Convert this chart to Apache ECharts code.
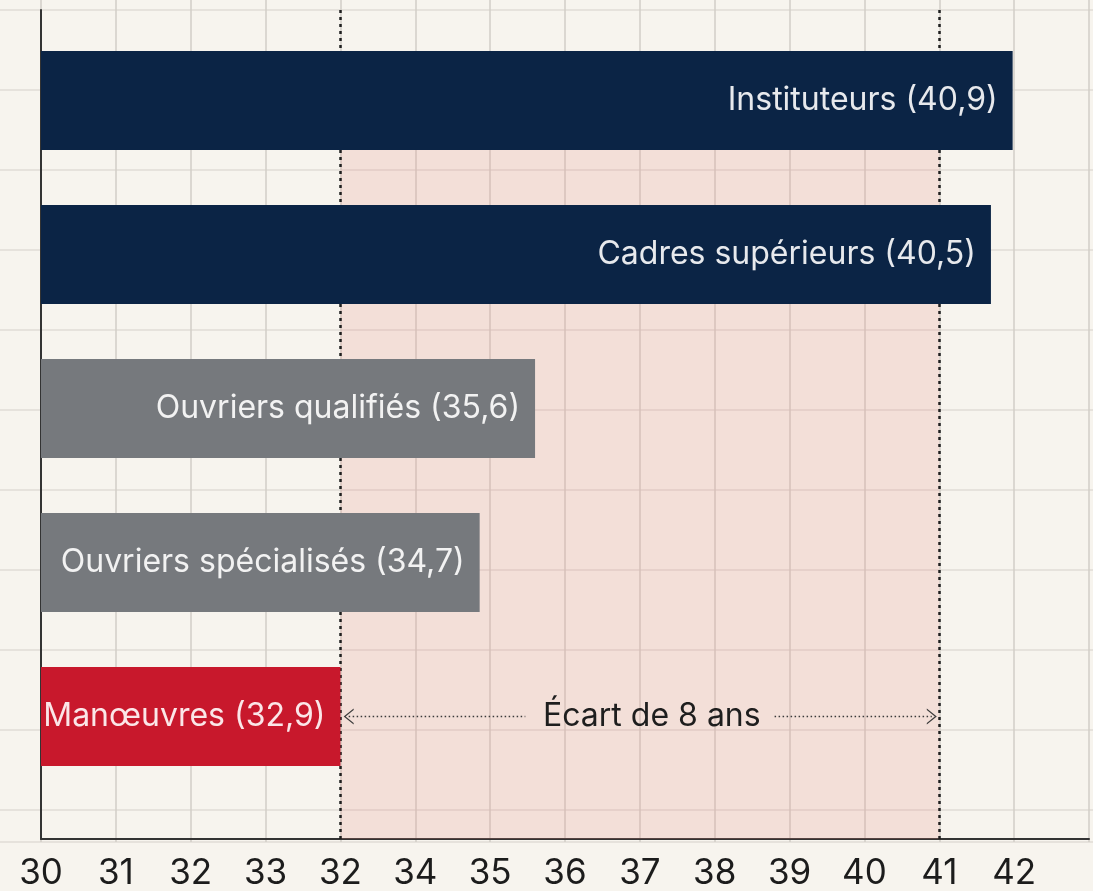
<!DOCTYPE html>
<html>
<head>
<meta charset="utf-8">
<script src="https://cdn.jsdelivr.net/npm/echarts@6/dist/echarts.min.js"></script>
<style>
html,body{margin:0;padding:0;background:#f7f4ee;}
#chart{width:1093px;height:891px;}
</style>
</head>
<body>
<div id="chart"></div>
<script>
// ---- data ----
const categories = ['Instituteurs', 'Cadres supérieurs', 'Ouvriers qualifiés', 'Ouvriers spécialisés', 'Manœuvres'];
const statedAges = [40.9, 40.5, 35.6, 34.7, 32.9];          // values printed in the bar labels
const barEnds = [42.98, 42.69, 36.6, 35.86, 34.0];          // where each bar ends on the pictured axis (one unit per tick from 30)
const groups = ['haut', 'haut', 'moyen', 'moyen', 'bas'];
const tickLabels = ['30', '31', '32', '33', '32', '34', '35', '36', '37', '38', '39', '40', '41', '42'];
const gapLabel = 'Écart de 8 ans';
const gapFrom = 34;   // tick of the left dotted marker
const gapTo = 42;     // tick of the right dotted marker

// ---- styles ----
const FONT = 'Inter';
const palette = { haut: '#0b2445', moyen: '#76797d', bas: '#c8182c' };
const labelColors = { haut: 'rgba(255,255,255,0.9)', moyen: '#f2f2f2', bas: '#fbe6e8' };
const fmt = v => String(v).replace('.', ',');
const chevron = 'path://M0,10 L10,0 L20,10 L18,10 L10,2 L2,10 Z';

const chart = echarts.init(document.getElementById('chart'), null, { renderer: 'canvas' });

const option = {
  backgroundColor: '#f7f4ee',
  animation: false,
  grid: [
    { left: 0, right: 0, top: 10, bottom: 49 },          // paper rows
    { left: 41, right: 4, top: 0, bottom: 49 },          // paper columns
    { left: 41, right: 4, top: 10, bottom: 49 },         // frame (axes)
    { left: 41, right: 4, top: 23.5, bottom: 97.5 }      // bars
  ],
  xAxis: [
    { gridIndex: 0, type: 'value', min: 0, max: 1, show: false },
    { gridIndex: 1, type: 'value', min: 30, max: 44, interval: 1,
      axisLine: { show: false }, axisTick: { show: false }, axisLabel: { show: false },
      splitLine: { show: true, lineStyle: { color: '#d2cec7', width: 1.5 } } },
    { gridIndex: 2, type: 'value', min: 30, max: 44, interval: 1,
      axisLine: { show: true, onZero: false, lineStyle: { color: '#333333', width: 2 } },
      axisTick: { show: false }, splitLine: { show: false },
      axisLabel: {
        margin: 17, fontSize: 35, color: '#1c1c1c', fontFamily: FONT,
        formatter: v => { const i = Math.round(v - 30); return tickLabels[i] !== undefined ? tickLabels[i] : ''; }
      } },
    { gridIndex: 3, type: 'value', min: 30, max: 44, startValue: 30, show: false }
  ],
  yAxis: [
    { gridIndex: 0, type: 'value', inverse: true, min: 0, max: 10.4, interval: 1,
      axisLine: { show: false }, axisTick: { show: false }, axisLabel: { show: false },
      splitLine: { show: true, lineStyle: { color: '#e1ddd6', width: 1.5 } } },
    { gridIndex: 1, type: 'value', min: 0, max: 1, show: false },
    { gridIndex: 2, type: 'value', inverse: true, min: 0, max: 10.4,
      axisLine: { show: true, onZero: false, lineStyle: { color: '#333333', width: 2 } },
      axisTick: { show: false }, axisLabel: { show: false }, splitLine: { show: false } },
    { gridIndex: 3, type: 'category', inverse: true, data: categories, show: false }
  ],
  series: [
    {
      type: 'line', xAxisIndex: 2, yAxisIndex: 2, data: [], silent: true, z: 1,
      markArea: {
        silent: true, z: 1,
        itemStyle: { color: 'rgba(228,140,128,0.2)' },
        data: [[{ xAxis: gapFrom, yAxis: 1.75 }, { xAxis: gapTo, yAxis: 10.4 }]]
      },
      markLine: {
        silent: true, z: 1.5, symbol: 'none', label: { show: false },
        lineStyle: { color: '#1f1f1f', width: 2.5, type: [3, 4] },
        data: [{ xAxis: gapFrom }, { xAxis: gapTo }]
      }
    },
    {
      type: 'bar', xAxisIndex: 3, yAxisIndex: 3, barWidth: 99, z: 2,
      data: barEnds.map((v, i) => ({
        value: v,
        itemStyle: { color: palette[groups[i]] },
        label: { color: labelColors[groups[i]] }
      })),
      label: {
        show: true, position: 'insideRight', distance: 15,
        fontFamily: FONT, fontSize: 32,
        formatter: p => categories[p.dataIndex] + ' (' + fmt(statedAges[p.dataIndex]) + ')'
      }
    },
    {
      type: 'line', xAxisIndex: 3, yAxisIndex: 3, data: [], silent: true, z: 3,
      markLine: {
        silent: true, z: 3, symbol: 'none', label: { show: false },
        lineStyle: { color: '#3a3a3a', width: 1.4, type: [1.5, 2.5] },
        data: [
          [{ coord: [34.11, 4], symbol: chevron, symbolSize: [16, 10] }, { coord: [36.47, 4], symbol: 'none' }],
          [{ coord: [39.8, 4], symbol: 'none' }, { coord: [41.9, 4], symbol: chevron, symbolSize: [16, 10] }]
        ]
      },
      markPoint: {
        silent: true, z: 3, symbol: 'rect', symbolSize: 1,
        itemStyle: { color: 'rgba(0,0,0,0)' },
        label: { show: true, position: 'inside', formatter: gapLabel, fontSize: 32, color: '#1e1e1e', fontFamily: FONT },
        data: [{ coord: [38.16, 4] }]
      }
    }
  ]
};

chart.setOption(option);
</script>
</body>
</html>
